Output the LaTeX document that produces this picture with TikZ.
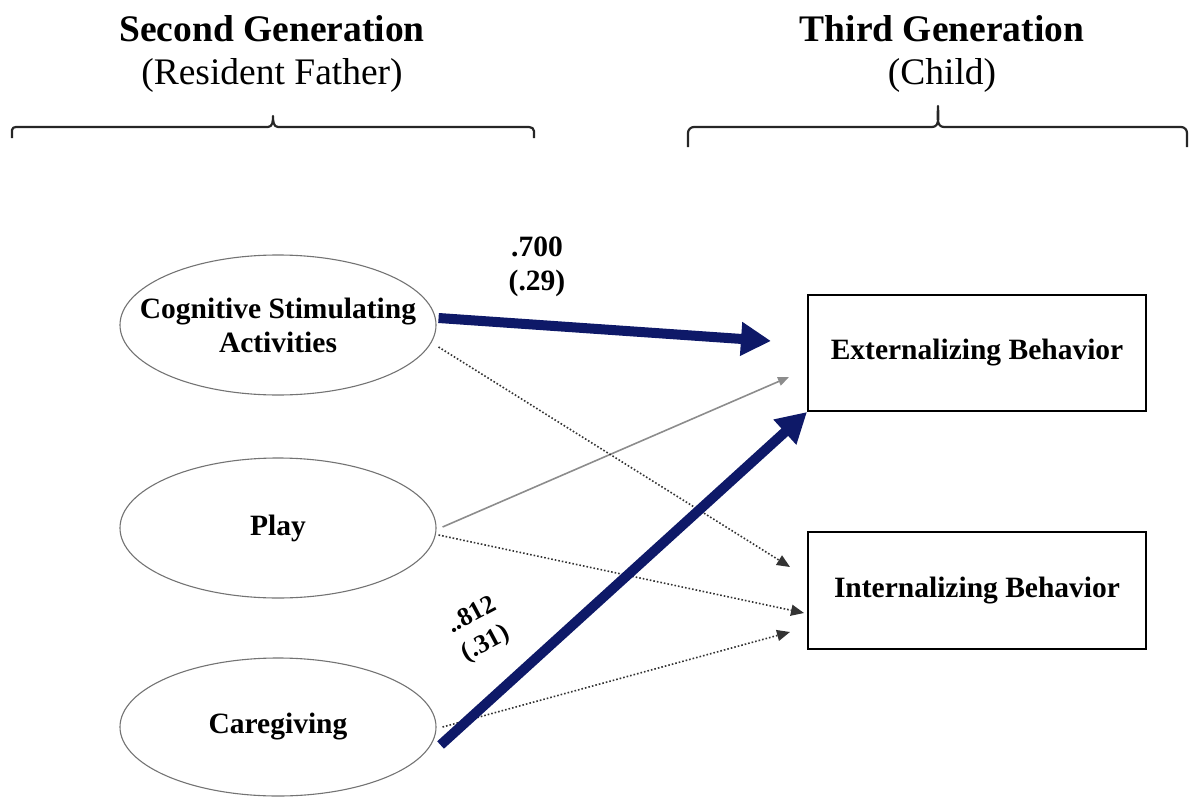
\documentclass[tikz,border=0pt]{standalone}
\usepackage{fontspec}
\setmainfont{Liberation Serif}
\usetikzlibrary{arrows.meta,shapes.geometric}
\definecolor{navy}{HTML}{0E1968}
\begin{document}
\begin{tikzpicture}[x=1pt,y=-1pt,
  head/.style={font=\fontsize{37.5}{42}\selectfont\bfseries, anchor=base},
  sub/.style={font=\fontsize{37.5}{42}\selectfont, anchor=base},
  lbl/.style={font=\fontsize{29.5}{34}\selectfont\bfseries, align=center, inner sep=0pt},
  coef/.style={font=\fontsize{26}{30}\selectfont\bfseries, inner sep=0pt, rotate=28},
  latent/.style={ellipse, draw=black!55, line width=1.1pt, minimum width=316pt, minimum height=140pt, inner sep=0pt},
  outcome/.style={rectangle, draw=black, line width=2pt, minimum width=338pt, minimum height=116pt, inner sep=0pt, font=\fontsize{29.5}{34}\selectfont\bfseries},
  brace/.style={draw=black!85, line width=2.2pt, line join=round},
  sig/.style={draw=navy, line width=10pt, -{Triangle[length=30pt,width=32pt]}},
  ns/.style={draw=black!45, line width=1.6pt, -{Triangle[length=11pt,width=9pt]}},
  nsdot/.style={draw=black!80, line width=1.6pt, dotted, -{Triangle[length=13pt,width=11pt]}}]
\useasboundingbox (0,0) rectangle (1193,797);

% generation headings
\node[head] (h2) at (272,42) {Second Generation};
\node[sub] (s2) at (272,85) {(Resident Father)};
\node[head] (h3) at (942,42) {Third Generation};
\node[sub] (s3) at (942,85) {(Child)};

% braces under headings
\draw[brace] (12,138) -- (12,130) to[out=90,in=180] (16,127) -- (268,127)
  to[out=0,in=-90] (273,116) to[out=-90,in=180] (278,127) -- (529,127)
  to[out=0,in=90] (534,131) -- (534,138);
\draw[brace] (688,147) -- (688,133) to[out=90,in=180] (694,127) -- (932,127)
  to[out=0,in=-90] (938,106) to[out=-90,in=180] (944,127) -- (1181,127)
  to[out=0,in=90] (1187,133) -- (1187,147);

% father-level constructs
\node[latent, label={[lbl]center:Cognitive Stimulating\\Activities}] (cog) at (278,325) {};
\node[latent, label={[lbl]center:Play}] (play) at (278,528) {};
\node[latent, minimum height=138pt, label={[lbl]center:Caregiving}] (care) at (278,727) {};

% child outcomes
\node[outcome] (ext) at (977,353) {Externalizing Behavior};
\node[outcome, minimum height=117pt] (int) at (977,590.5) {Internalizing Behavior};

% non-significant paths
\draw[ns] ([shift={(6,-1)}]play.east) -- ([shift={(-18,24)}]ext.west);
\draw[nsdot] ([shift={(2,22)}]cog.east) -- ([shift={(-17,-23.5)}]int.west);
\draw[nsdot] ([shift={(2,7)}]play.east) -- ([shift={(-3,22.5)}]int.west);
\draw[nsdot] ([shift={(6,0)}]care.east) -- ([shift={(-17,41.5)}]int.west);

% significant paths
\draw[sig] ([shift={(2,-7)}]cog.east) -- ([shift={(-36,-12)}]ext.west);
\draw[sig] ([shift={(4,18)}]care.east) -- (ext.south west);

% path coefficients
\node[lbl] (c1) at (537,267) {.700\\(.29)};
\node[coef] (c2) at (471,614) {..812};
\node[coef] (c2se) at (486,644) {(.31)};
\end{tikzpicture}
\end{document}
